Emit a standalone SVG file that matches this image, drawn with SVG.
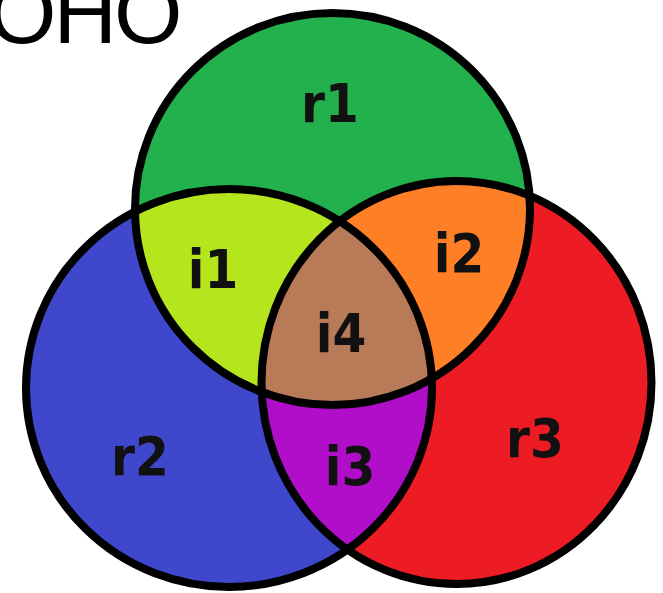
<svg xmlns="http://www.w3.org/2000/svg" width="663" height="593" viewBox="0 0 663 593">
  <style>
    .edge { fill: none; stroke: #000; stroke-width: 8; }
    .lbl { font-family: "DejaVu Sans Condensed", "DejaVu Sans", sans-serif; font-stretch: condensed; font-weight: bold; font-size: 54px; fill: #111; text-anchor: middle; }
    .title { font-family: "Liberation Sans", Arial, sans-serif; font-size: 88px; fill: #000; letter-spacing: -3px; }
  </style>
  <defs>
    <clipPath id="cG"><ellipse cx="332.5" cy="209" rx="197.5" ry="196"/></clipPath>
    <clipPath id="cB"><ellipse cx="229" cy="388" rx="203" ry="199"/></clipPath>
    <clipPath id="cR"><ellipse cx="456.5" cy="382.5" rx="195" ry="201.5"/></clipPath>
  </defs>

  <rect width="663" height="593" fill="#fff"/>

  <text class="title" x="-12" y="43">OHO</text>

  <g id="r1"><ellipse cx="332.5" cy="209" rx="197.5" ry="196" fill="#22b14c"/></g>
  <g id="r2"><ellipse cx="229" cy="388" rx="203" ry="199" fill="#3f48cc"/></g>
  <g id="r3"><ellipse cx="456.5" cy="382.5" rx="195" ry="201.5" fill="#ed1c24"/></g>
  <g id="i1"><ellipse cx="229" cy="388" rx="203" ry="199" fill="#b5e61d" clip-path="url(#cG)"/></g>
  <g id="i2"><ellipse cx="456.5" cy="382.5" rx="195" ry="201.5" fill="#ff7f27" clip-path="url(#cG)"/></g>
  <g id="i3"><ellipse cx="456.5" cy="382.5" rx="195" ry="201.5" fill="#b00ec8" clip-path="url(#cB)"/></g>
  <g id="i4"><g clip-path="url(#cR)"><ellipse cx="332.5" cy="209" rx="197.5" ry="196" fill="#b97a57" clip-path="url(#cB)"/></g></g>

  <g id="edges">
    <ellipse class="edge" cx="332.5" cy="209" rx="197.5" ry="196"/>
    <ellipse class="edge" cx="229" cy="388" rx="203" ry="199"/>
    <ellipse class="edge" cx="456.5" cy="382.5" rx="195" ry="201.5"/>
  </g>

  <g id="labels">
    <text class="lbl" x="330" y="122">r1</text>
    <text class="lbl" x="213" y="288">i1</text>
    <text class="lbl" x="459" y="272">i2</text>
    <text class="lbl" x="341" y="352">i4</text>
    <text class="lbl" x="140" y="475">r2</text>
    <text class="lbl" x="350" y="485">i3</text>
    <text class="lbl" x="535" y="457">r3</text>
  </g>
</svg>
